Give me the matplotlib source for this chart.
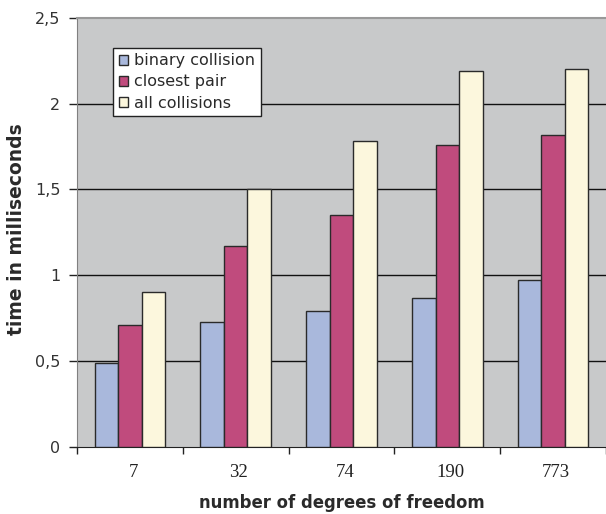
import matplotlib
matplotlib.use("Agg")
import matplotlib.pyplot as plt
import numpy as np

categories = ["7", "32", "74", "190", "773"]
series_names = ["binary collision", "closest pair", "all collisions"]
binary_collision = [0.49, 0.73, 0.79, 0.87, 0.97]
closest_pair = [0.71, 1.17, 1.35, 1.76, 1.82]
all_collisions = [0.90, 1.50, 1.78, 2.19, 2.20]
yticks = [0, 0.5, 1, 1.5, 2, 2.5]
ytick_labels = ["0", "0,5", "1", "1,5", "2", "2,5"]

colors = ["#A9B8DC", "#C04B7D", "#FCF7DD"]

fig = plt.figure(figsize=(6.06, 5.14), dpi=100)
ax = fig.add_axes([0.127, 0.1304, 0.873, 0.835])
ax.set_facecolor("#C8C9CA")

x = np.arange(len(categories))
w = 0.222
for k, (vals, name) in enumerate(zip([binary_collision, closest_pair, all_collisions], series_names)):
    ax.bar(x + (k - 1) * w, vals, width=w, color=colors[k], edgecolor="#2a2a2a",
           linewidth=1.0, label=name, zorder=3)

ax.set_xlim(-0.5, len(categories) - 0.5)
ax.set_ylim(0, 2.5)
ax.set_yticks(yticks)
ax.set_yticklabels(ytick_labels, fontsize=11.5, color="#333333", family="DejaVu Sans")
for yv in yticks[1:-1]:
    ax.axhline(yv, color="#111111", linewidth=1.0, zorder=1)

# category boundary ticks
ax.set_xticks(np.arange(len(categories) + 1) - 0.5)
ax.set_xticklabels([])
ax.tick_params(axis="x", length=5, color="#222222", width=1)
ax.tick_params(axis="y", length=6, color="#222222", width=1, pad=6)
for p, c in zip(x, categories):
    ax.text(p + 0.03, -0.04, c, transform=ax.get_xaxis_transform(), ha="center", va="top",
            fontsize=13.5, family="Liberation Serif", color="#222222")

ax.spines["right"].set_visible(False)
ax.spines["top"].set_color("#999999")
ax.spines["top"].set_linewidth(1.5)
ax.spines["left"].set_color("#808080")
ax.spines["bottom"].set_color("#222222")

fig.text(0.564, 0.021, "number of degrees of freedom", ha="center", va="center",
         fontsize=11.9, fontweight="bold", color="#2a2a2a")
fig.text(0.028, 0.555, "time in milliseconds", ha="center", va="center", rotation=90,
         fontsize=13.5, fontweight="bold", color="#2a2a2a")

leg = ax.legend(loc="upper left", bbox_to_anchor=(0.068, 0.93), fontsize=11.5,
                frameon=True, fancybox=False, edgecolor="#222222", framealpha=1,
                handlelength=0.6, handleheight=0.6, handletextpad=0.4,
                borderpad=0.35, labelspacing=0.38, borderaxespad=0)
leg.get_frame().set_linewidth(1.0)
for t in leg.get_texts():
    t.set_color("#2a2a2a")
leg.set_zorder(5)

fig.savefig("out.png", dpi=100)
